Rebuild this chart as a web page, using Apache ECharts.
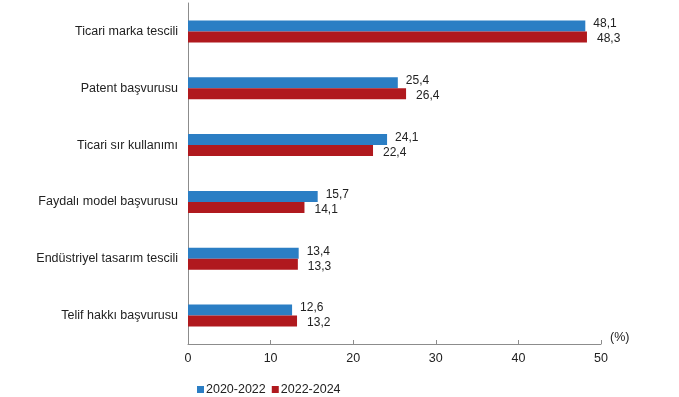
<!DOCTYPE html>
<html>
<head>
<meta charset="utf-8">
<script src="https://cdn.jsdelivr.net/npm/echarts@6/dist/echarts.min.js"></script>
<style>
  html, body { margin: 0; padding: 0; background: #fff; }
  #chart { width: 679px; height: 397px; }
</style>
</head>
<body>
<div id="chart"></div>
<script>
// kategoriler (yukaridan asagiya)
const categories = [
  "Ticari marka tescili",
  "Patent başvurusu",
  "Ticari sır kullanımı",
  "Faydalı model başvurusu",
  "Endüstriyel tasarım tescili",
  "Telif hakkı başvurusu",
];
const seriesNames = ["2020-2022", "2022-2024"];
const values2020 = [48.1, 25.4, 24.1, 15.7, 13.4, 12.6];
const values2022 = [48.3, 26.4, 22.4, 14.1, 13.3, 13.2];

const fmt = (p) => String(p.value).replace(".", ",");

const myChart = echarts.init(document.getElementById("chart"));
myChart.setOption({
  animation: false,
  textStyle: { fontFamily: "Liberation Sans, Arial, sans-serif" },
  grid: {
    top: 3,
    left: 188,
    right: 78,
    bottom: 53,
  },
  legend: {
    top: 378,
    left: 192,
    itemWidth: 7,
    itemHeight: 7,
    itemGap: 6,
    icon: "rect",
    textStyle: { fontSize: 12.5, color: "#222", padding: [0, 0, 0, -3] },
    data: seriesNames,
  },
  xAxis: {
    type: "value",
    min: 0,
    max: 50,
    interval: 10,
    name: "(%)",
    nameLocation: "end",
    nameGap: 9,
    nameTextStyle: { fontSize: 12.5, color: "#222", verticalAlign: "bottom" },
    axisLine: { show: true, lineStyle: { color: "#8c8c8c", width: 1 } },
    axisTick: { show: true, inside: true, length: 4, lineStyle: { color: "#8c8c8c" } },
    axisLabel: { fontSize: 12.5, color: "#222", margin: 8 },
    splitLine: { show: false },
  },
  yAxis: {
    type: "category",
    inverse: true,
    data: categories,
    axisLine: { show: true, lineStyle: { color: "#8c8c8c", width: 1 } },
    axisTick: { show: false },
    axisLabel: { fontSize: 12.5, color: "#222", margin: 10 },
  },
  series: [
    {
      name: seriesNames[0],
      type: "bar",
      data: values2020,
      barWidth: 11,
      barGap: "0%",
      itemStyle: { color: "#2B7EC4" },
      label: {
        show: true,
        position: "right",
        distance: 8,
        offset: [0, -2],
        fontSize: 12,
        color: "#222",
        formatter: fmt,
      },
    },
    {
      name: seriesNames[1],
      type: "bar",
      data: values2022,
      barWidth: 11,
      itemStyle: { color: "#B0191E" },
      label: {
        show: true,
        position: "right",
        distance: 10,
        offset: [0, 2],
        fontSize: 12,
        color: "#222",
        formatter: fmt,
      },
    },
  ],
});
</script>
</body>
</html>
